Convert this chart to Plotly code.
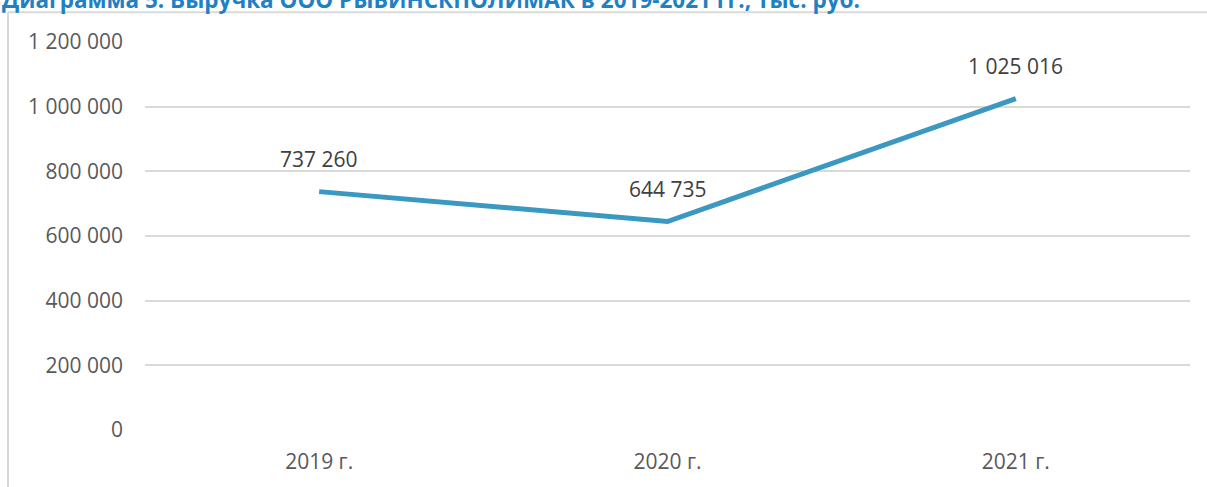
import plotly.graph_objects as go

years = ["2019 г.", "2020 г.", "2021 г."]
revenue = [737260, 644735, 1025016]
label_texts = ["737 260", "644 735", "1 025 016"]
y_ticks = [0, 200000, 400000, 600000, 800000, 1000000, 1200000]
y_tick_labels = ["0", "200 000", "400 000", "600 000", "800 000", "1 000 000", "1 200 000"]
title_text = "Диаграмма 5. Выручка ООО РЫБИНСКПОЛИМАК в 2019-2021 гг., тыс. руб."

W, H = 1207, 487
L, R, T, B = 145, 17, 42, 54
ph = H - T - B
pw = W - L - R

def py(pix):
    return (H - B - pix) / ph

def px(pix):
    return (pix - L) / pw

font_family = "Open Sans, Liberation Sans, sans-serif"

fig = go.Figure()
fig.add_trace(go.Scatter(
    x=years, y=revenue, mode="lines",
    line=dict(color="#3A98C1", width=5),
    hoverinfo="skip", showlegend=False,
))

for x, y, t in zip(years, revenue, label_texts):
    fig.add_annotation(x=x, y=y, text=t, showarrow=False, yanchor="middle",
                       yshift=33, font=dict(size=21, color="#404040", family=font_family))

fig.add_annotation(xref="paper", yref="paper", x=px(0), y=py(-0.5), text="<b>" + title_text + "</b>",
                   showarrow=False, xanchor="left", yanchor="middle",
                   font=dict(size=22.5, color="#1F80C4", family=font_family))

fig.add_shape(type="line", xref="paper", yref="paper", x0=px(8), x1=px(8), y0=py(12), y1=py(H + 5),
              line=dict(color="#D9D9D9", width=2))
fig.add_shape(type="line", xref="paper", yref="paper", x0=px(8), x1=px(W + 5), y0=py(12), y1=py(12),
              line=dict(color="#D9D9D9", width=2))

fig.update_layout(
    width=W, height=H,
    margin=dict(l=L, r=R, t=T, b=B),
    paper_bgcolor="white", plot_bgcolor="white",
    xaxis=dict(type="category", range=[-0.5, 2.5], showgrid=False, zeroline=False,
               showline=False, ticks="", ticklabelstandoff=17,
               tickfont=dict(size=21, color="#595959", family=font_family)),
    yaxis=dict(range=[0, 1200000], tickvals=y_ticks, ticktext=y_tick_labels,
               showgrid=True, gridcolor="#D9D9D9", gridwidth=1.5, zeroline=False,
               showline=False, ticks="", ticklabelstandoff=21,
               tickfont=dict(size=21, color="#595959", family=font_family)),
)

fig.write_html("out.html", config={"displayModeBar": False},
               post_script="document.body.style.margin='0';")
